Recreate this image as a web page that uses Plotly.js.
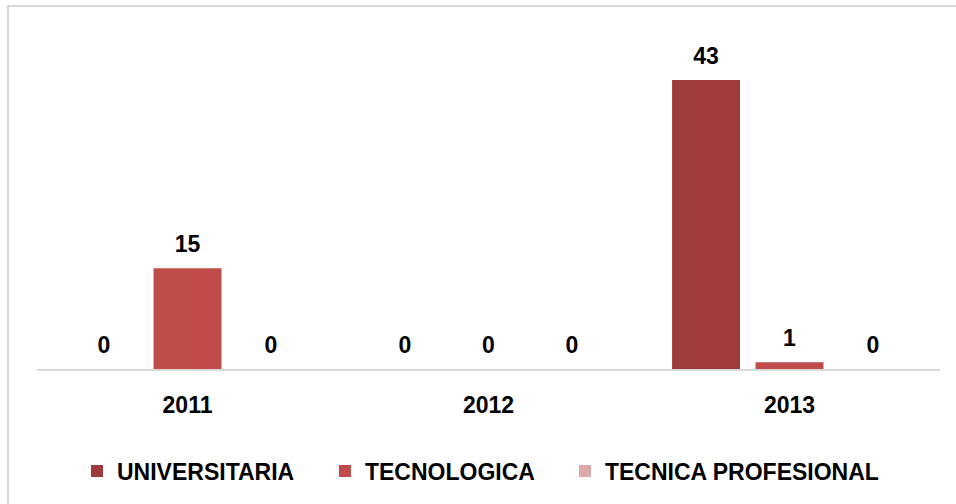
<!DOCTYPE html>
<html>
<head>
<meta charset="utf-8">
<script src="https://cdn.plot.ly/plotly-3.0.1.min.js"></script>
<style>html,body{margin:0;padding:0;background:#fff;}#chart{width:956px;height:504px;}</style>
</head>
<body>
<div id="chart"></div>
<script>
const years = ['2011', '2012', '2013'];
const seriesNames = ['UNIVERSITARIA', 'TECNOLOGICA', 'TECNICA PROFESIONAL'];
const universitaria = [0, 0, 43];
const tecnologica = [15, 0, 1];
const tecnicaProfesional = [0, 0, 0];
const seriesValues = [universitaria, tecnologica, tecnicaProfesional];
const seriesColors = ['#9E3C3C', '#BF4B4B', '#DDAAAA'];

const BARGAP = 0.168;
const FONT = 'Arial, Liberation Sans, sans-serif';
const labelFont = {family: FONT, size: 23, color: '#000000', weight: 'bold'};
const legendIds = ['legend', 'legend2', 'legend3'];
const legendX = [0.0443, 0.3189, 0.5847];

const traces = [];
seriesValues.forEach((vals, i) => {
  traces.push({
    type: 'bar',
    name: seriesNames[i],
    x: years,
    y: vals,
    offsetgroup: 'g' + i,
    legend: legendIds[i],
    marker: {color: seriesColors[i], line: {width: 0}},
    hoverinfo: 'skip'
  });
});
seriesValues.forEach((vals, i) => {
  traces.push({
    type: 'scatter',
    mode: 'markers+text',
    x: years,
    y: vals,
    text: vals.map(String),
    textposition: 'top center',
    textfont: labelFont,
    marker: {size: 15, color: 'rgba(0,0,0,0)', line: {width: 0}},
    offsetgroup: 'g' + i,
    showlegend: false,
    hoverinfo: 'skip',
    cliponaxis: false
  });
});

const layout = {
  width: 956,
  height: 504,
  margin: {l: 37, r: 16, t: 33, b: 135},
  paper_bgcolor: '#ffffff',
  plot_bgcolor: '#ffffff',
  barmode: 'group',
  scattermode: 'group',
  bargap: BARGAP,
  scattergap: BARGAP,
  bargroupgap: 0.186,
  showlegend: true,
  xaxis: {
    type: 'category',
    showline: true,
    linecolor: '#D9D9D9',
    linewidth: 2,
    showgrid: false,
    zeroline: false,
    ticks: 'outside',
    ticklen: 14,
    tickcolor: 'rgba(0,0,0,0)',
    tickfont: {family: FONT, size: 23, color: '#000000', weight: 'bold'}
  },
  yaxis: {
    range: [0, 50],
    visible: false,
    showgrid: false,
    zeroline: false
  },
  shapes: [{
    type: 'rect', xref: 'paper', yref: 'paper',
    x0: -0.0321, x1: 1.05, y0: -0.6, y1: 1.0804,
    line: {color: '#D9D9D9', width: 2},
    fillcolor: 'rgba(0,0,0,0)',
    layer: 'below'
  }]
};

legendIds.forEach((id, i) => {
  layout[id] = {
    orientation: 'h',
    x: legendX[i], xanchor: 'left',
    y: -0.3036, yanchor: 'middle',
    bgcolor: 'rgba(0,0,0,0)',
    font: {family: FONT, size: 23, color: '#000000', weight: 'bold'},
    itemclick: false, itemdoubleclick: false
  };
});

Plotly.newPlot('chart', traces, layout, {displayModeBar: false, staticPlot: true});
</script>
</body>
</html>
